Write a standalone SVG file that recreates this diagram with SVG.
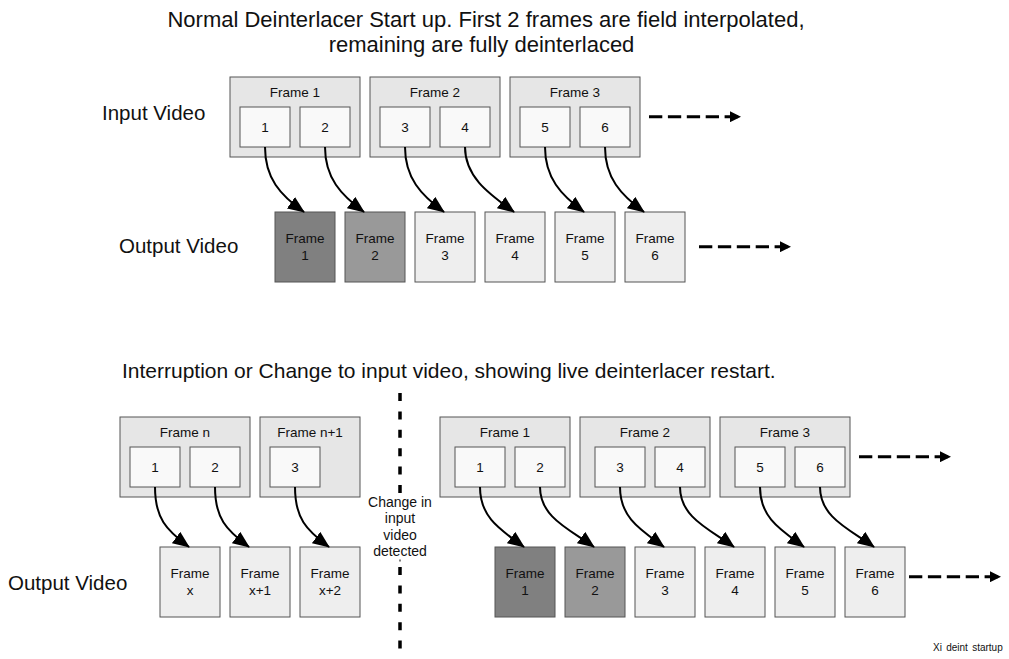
<svg xmlns="http://www.w3.org/2000/svg" width="1009" height="659" viewBox="0 0 1009 659">
<defs>
<style>
text{font-family:"Liberation Sans",Arial,Helvetica,sans-serif;fill:#111}
.title{font-size:22px}
.lbl{font-size:20.5px}
.fl{font-size:13.5px;text-anchor:middle}
.chg{font-size:14px;text-anchor:middle}
.outer{fill:#e6e6e6;stroke:#555;stroke-width:1}
.inner{fill:#f9f9f9;stroke:#555;stroke-width:1}
.out{fill:#eeeeee;stroke:#555;stroke-width:1}
.d1{fill:#808080;stroke:#555;stroke-width:1}
.d2{fill:#999999;stroke:#555;stroke-width:1}
.cur{fill:none;stroke:#000;stroke-width:2;marker-end:url(#ah)}
.dsh{fill:none;stroke:#000;stroke-width:3;stroke-dasharray:13.3 5.6;marker-end:url(#ah2)}
.vdash{fill:none;stroke:#000;stroke-width:3.5;stroke-dasharray:8 10.4}
</style>
<marker id="ah" markerUnits="userSpaceOnUse" markerWidth="17" markerHeight="14" refX="16" refY="7" orient="auto">
<path d="M0,0 L17,7 L0,14 z" fill="#000"/>
</marker>
<marker id="ah2" markerUnits="userSpaceOnUse" markerWidth="11" markerHeight="11" refX="10" refY="5.5" orient="auto">
<path d="M0,0 L11,5.5 L0,11 z" fill="#000"/>
</marker>
</defs>
<rect width="1009" height="659" fill="#fff"/>

<text class="title" x="486" y="27" text-anchor="middle">Normal Deinterlacer Start up. First 2 frames are field interpolated,</text>
<text class="title" x="481.5" y="52" text-anchor="middle">remaining are fully deinterlaced</text>
<text class="lbl" x="102" y="120">Input Video</text>
<text class="lbl" x="119" y="253">Output Video</text>

<text class="title" x="122" y="378" style="font-size:21px">Interruption or Change to input video, showing live deinterlacer restart.</text>
<text class="lbl" x="8" y="590">Output Video</text>

<!-- top input frames -->
<g id="top-frame1">
<rect class="outer" x="230" y="77" width="130" height="80"/>
<text class="fl" x="295" y="96.7">Frame 1</text>
<rect class="inner" x="240" y="107" width="50" height="40"/>
<text class="fl" x="265" y="131.5">1</text>
<rect class="inner" x="300" y="107" width="50" height="40"/>
<text class="fl" x="325" y="131.5">2</text>
</g>
<g id="top-frame2">
<rect class="outer" x="370" y="77" width="130" height="80"/>
<text class="fl" x="435" y="96.7">Frame 2</text>
<rect class="inner" x="380" y="107" width="50" height="40"/>
<text class="fl" x="405" y="131.5">3</text>
<rect class="inner" x="440" y="107" width="50" height="40"/>
<text class="fl" x="465" y="131.5">4</text>
</g>
<g id="top-frame3">
<rect class="outer" x="510" y="77" width="130" height="80"/>
<text class="fl" x="575" y="96.7">Frame 3</text>
<rect class="inner" x="520" y="107" width="50" height="40"/>
<text class="fl" x="545" y="131.5">5</text>
<rect class="inner" x="580" y="107" width="50" height="40"/>
<text class="fl" x="605" y="131.5">6</text>
</g>

<!-- top output frames -->
<g id="top-out1"><rect class="d1" x="275" y="212" width="60" height="70"/><text class="fl" x="305" y="243.3">Frame</text><text class="fl" x="305" y="260">1</text></g>
<g id="top-out2"><rect class="d2" x="345" y="212" width="60" height="70"/><text class="fl" x="375" y="243.3">Frame</text><text class="fl" x="375" y="260">2</text></g>
<g id="top-out3"><rect class="out" x="415" y="212" width="60" height="70"/><text class="fl" x="445" y="243.3">Frame</text><text class="fl" x="445" y="260">3</text></g>
<g id="top-out4"><rect class="out" x="485" y="212" width="60" height="70"/><text class="fl" x="515" y="243.3">Frame</text><text class="fl" x="515" y="260">4</text></g>
<g id="top-out5"><rect class="out" x="555" y="212" width="60" height="70"/><text class="fl" x="585" y="243.3">Frame</text><text class="fl" x="585" y="260">5</text></g>
<g id="top-out6"><rect class="out" x="625" y="212" width="60" height="70"/><text class="fl" x="655" y="243.3">Frame</text><text class="fl" x="655" y="260">6</text></g>

<!-- bottom input frames -->
<g id="bot-framen">
<rect class="outer" x="120" y="417" width="130" height="80"/>
<text class="fl" x="185" y="437">Frame n</text>
<rect class="inner" x="130" y="447" width="50" height="40"/>
<text class="fl" x="155" y="471.5">1</text>
<rect class="inner" x="190" y="447" width="50" height="40"/>
<text class="fl" x="215" y="471.5">2</text>
</g>
<g id="bot-framen1">
<rect class="outer" x="260" y="417" width="100" height="80"/>
<text class="fl" x="310" y="437">Frame n+1</text>
<rect class="inner" x="270" y="447" width="50" height="40"/>
<text class="fl" x="295" y="471.5">3</text>
</g>
<g id="bot-frame1">
<rect class="outer" x="440" y="417" width="130" height="80"/>
<text class="fl" x="505" y="437">Frame 1</text>
<rect class="inner" x="455" y="447" width="50" height="40"/>
<text class="fl" x="480" y="471.5">1</text>
<rect class="inner" x="515" y="447" width="50" height="40"/>
<text class="fl" x="540" y="471.5">2</text>
</g>
<g id="bot-frame2">
<rect class="outer" x="580" y="417" width="130" height="80"/>
<text class="fl" x="645" y="437">Frame 2</text>
<rect class="inner" x="595" y="447" width="50" height="40"/>
<text class="fl" x="620" y="471.5">3</text>
<rect class="inner" x="655" y="447" width="50" height="40"/>
<text class="fl" x="680" y="471.5">4</text>
</g>
<g id="bot-frame3">
<rect class="outer" x="720" y="417" width="130" height="80"/>
<text class="fl" x="785" y="437">Frame 3</text>
<rect class="inner" x="735" y="447" width="50" height="40"/>
<text class="fl" x="760" y="471.5">5</text>
<rect class="inner" x="795" y="447" width="50" height="40"/>
<text class="fl" x="820" y="471.5">6</text>
</g>

<!-- bottom output frames -->
<g id="bot-outx"><rect class="out" x="160" y="547" width="60" height="70"/><text class="fl" x="190" y="578.3">Frame</text><text class="fl" x="190" y="595">x</text></g>
<g id="bot-outx1"><rect class="out" x="230" y="547" width="60" height="70"/><text class="fl" x="260" y="578.3">Frame</text><text class="fl" x="260" y="595">x+1</text></g>
<g id="bot-outx2"><rect class="out" x="300" y="547" width="60" height="70"/><text class="fl" x="330" y="578.3">Frame</text><text class="fl" x="330" y="595">x+2</text></g>
<g id="bot-out1"><rect class="d1" x="495" y="547" width="60" height="70"/><text class="fl" x="525" y="578.3">Frame</text><text class="fl" x="525" y="595">1</text></g>
<g id="bot-out2"><rect class="d2" x="565" y="547" width="60" height="70"/><text class="fl" x="595" y="578.3">Frame</text><text class="fl" x="595" y="595">2</text></g>
<g id="bot-out3"><rect class="out" x="635" y="547" width="60" height="70"/><text class="fl" x="665" y="578.3">Frame</text><text class="fl" x="665" y="595">3</text></g>
<g id="bot-out4"><rect class="out" x="705" y="547" width="60" height="70"/><text class="fl" x="735" y="578.3">Frame</text><text class="fl" x="735" y="595">4</text></g>
<g id="bot-out5"><rect class="out" x="775" y="547" width="60" height="70"/><text class="fl" x="805" y="578.3">Frame</text><text class="fl" x="805" y="595">5</text></g>
<g id="bot-out6"><rect class="out" x="845" y="547" width="60" height="70"/><text class="fl" x="875" y="578.3">Frame</text><text class="fl" x="875" y="595">6</text></g>

<!-- connectors -->
<g id="connectors">
<path class="cur" d="M265,147 C265,178 280,195 304,212"/>
<path class="cur" d="M325,147 C325,178 341,195 364,212"/>
<path class="cur" d="M405,147 C405,178 421,195 444,212"/>
<path class="cur" d="M465,147 C465,178 491,195 514,212"/>
<path class="cur" d="M545,147 C545,178 561,195 584,212"/>
<path class="cur" d="M605,147 C605,178 621,195 644,212"/>

<path class="cur" d="M155,487 C155,518 166,530 189,547"/>
<path class="cur" d="M215,487 C215,518 226,530 249,547"/>
<path class="cur" d="M295,487 C295,518 306,530 329,547"/>
<path class="cur" d="M480,487 C480,518 501,530 524,547"/>
<path class="cur" d="M540,487 C540,518 571,530 594,547"/>
<path class="cur" d="M620,487 C620,518 641,530 664,547"/>
<path class="cur" d="M680,487 C680,518 711,530 734,547"/>
<path class="cur" d="M760,487 C760,518 781,530 804,547"/>
<path class="cur" d="M820,487 C820,518 851,530 874,547"/>

<path class="dsh" d="M649,116.7 H740"/>
<path class="dsh" d="M699,246.7 H790"/>
<path class="dsh" d="M859,456.7 H950"/>
<path class="dsh" d="M909,576.7 H1000"/>

<path class="vdash" d="M400,393 V493"/>
<path class="vdash" d="M400,567 V652"/>
<rect x="399.5" y="559.5" width="1" height="2" fill="#000"/>
</g>

<g id="change-label">
<text class="chg" x="400" y="506.5">Change in</text>
<text class="chg" x="400" y="523">input</text>
<text class="chg" x="400" y="539.5">video</text>
<text class="chg" x="400" y="556">detected</text>
</g>

<text x="933" y="651" style="font-size:10px;word-spacing:1.5px">Xi deint startup</text>
</svg>
